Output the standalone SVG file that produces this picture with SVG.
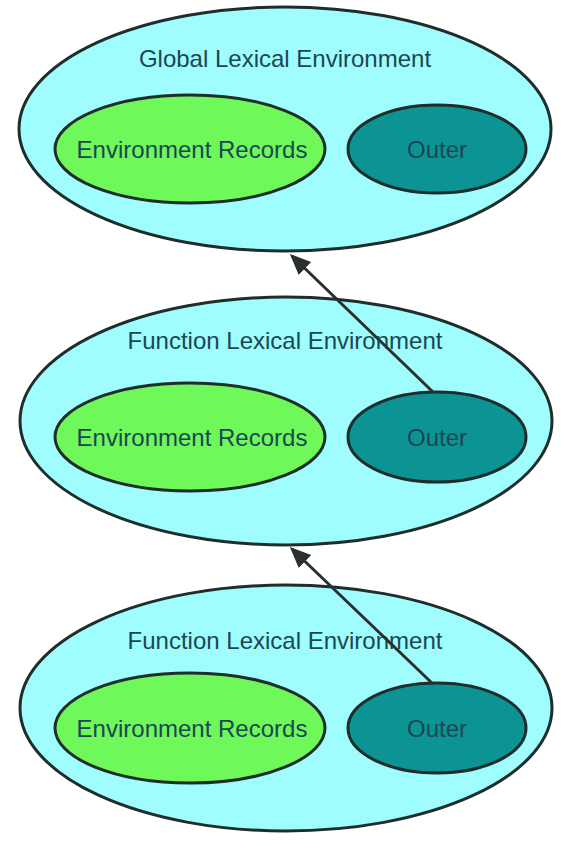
<svg xmlns="http://www.w3.org/2000/svg" width="574" height="844" viewBox="0 0 574 844">
<style>
.env{fill:#9ffdfd;stroke:#1f2d2d;stroke-width:3}
.rec{fill:#6ff85a;stroke:#1f2d2d;stroke-width:3}
.out{fill:#0c9393;stroke:#1f2d2d;stroke-width:3}
text{font-family:"Liberation Sans",Arial,sans-serif;font-size:24px;text-anchor:middle;fill:#1a4753}
.conn{stroke:#2a2f2f;stroke-width:3;fill:none}
</style>
<defs>
<marker id="ah" markerWidth="8" markerHeight="8" refX="6" refY="3" orient="auto" markerUnits="strokeWidth" viewBox="0 0 8 6">
<path d="M0,0 L7,3 L0,6 Z" fill="#2a2f2f"/>
</marker>
</defs>
<rect width="574" height="844" fill="#ffffff"/>
<g id="global">
<ellipse class="env" cx="285" cy="129" rx="266" ry="122"/>
<text x="285" y="67">Global Lexical Environment</text>
<g id="global-records"><ellipse class="rec" cx="190" cy="149" rx="135" ry="54"/><text x="192" y="158">Environment Records</text></g>
<g id="global-outer"><ellipse class="out" cx="437" cy="149" rx="89" ry="44"/><text x="437" y="158">Outer</text></g>
</g>
<g id="function1">
<ellipse class="env" cx="286" cy="421" rx="266" ry="124"/>
<text x="285" y="349">Function Lexical Environment</text>
<g id="function1-records"><ellipse class="rec" cx="190" cy="437" rx="135" ry="54"/><text x="192" y="446">Environment Records</text></g>
<g id="function1-outer"><ellipse class="out" cx="437" cy="437" rx="89" ry="45"/><text x="437" y="446">Outer</text></g>
</g>
<g id="function2">
<ellipse class="env" cx="286" cy="708" rx="266" ry="123"/>
<text x="285" y="649">Function Lexical Environment</text>
<g id="function2-records"><ellipse class="rec" cx="190" cy="728" rx="135" ry="55"/><text x="192" y="737">Environment Records</text></g>
<g id="function2-outer"><ellipse class="out" cx="437" cy="728" rx="89" ry="45"/><text x="437" y="737">Outer</text></g>
</g>
<g id="connectors">
<line class="conn" x1="433" y1="392" x2="292" y2="256" marker-end="url(#ah)"/>
<line class="conn" x1="433" y1="684" x2="292" y2="549" marker-end="url(#ah)"/>
</g>
</svg>
